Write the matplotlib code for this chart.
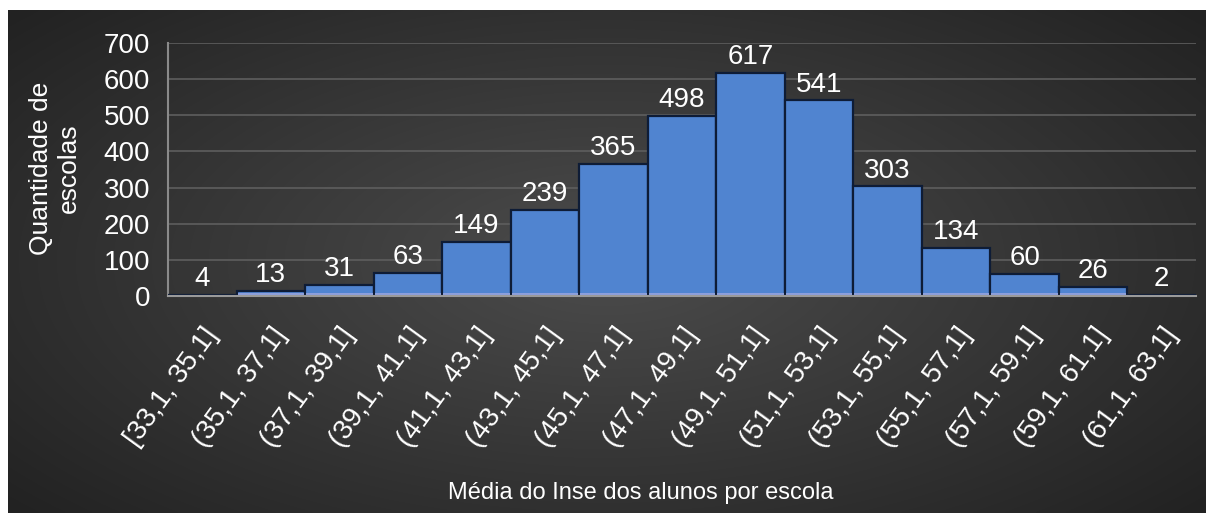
import numpy as np
import matplotlib
matplotlib.use("Agg")
import matplotlib.pyplot as plt
from matplotlib import transforms

plt.rcParams['font.family'] = ['Liberation Sans', 'DejaVu Sans']

# faixas do Inse e quantidade de escolas
faixas = ['[33,1, 35,1]', '(35,1, 37,1]', '(37,1, 39,1]', '(39,1, 41,1]',
          '(41,1, 43,1]', '(43,1, 45,1]', '(45,1, 47,1]', '(47,1, 49,1]',
          '(49,1, 51,1]', '(51,1, 53,1]', '(53,1, 55,1]', '(55,1, 57,1]',
          '(57,1, 59,1]', '(59,1, 61,1]', '(61,1, 63,1]']
escolas = [4, 13, 31, 63, 149, 239, 365, 498, 617, 541, 303, 134, 60, 26, 2]
y_ticks = [0, 100, 200, 300, 400, 500, 600, 700]

W, H = 1206, 513
fig = plt.figure(figsize=(W / 100, H / 100), dpi=100, facecolor='white')

# fundo escuro com gradiente radial
bg = fig.add_axes([8 / W, 0, 1 - 8 / W, (H - 10) / H])
gx, gy = np.meshgrid(np.linspace(-1, 1, 400), np.linspace(-1, 1, 200))
r = np.sqrt((gx * 0.9) ** 2 + (gy * 0.8) ** 2)
r = np.clip(r / 1.2, 0, 1)
c0 = np.array([0x4c, 0x4c, 0x4c]) / 255
c1 = np.array([0x22, 0x22, 0x22]) / 255
img = c0[None, None, :] * (1 - r[..., None]) + c1[None, None, :] * r[..., None]
bg.imshow(img, aspect='auto', extent=[0, 1, 0, 1], interpolation='bilinear')
bg.set_axis_off()

ax = fig.add_axes([168 / W, (H - 296) / H, (1196 - 168) / W, (296 - 43) / H])
ax.set_facecolor('none')

x = np.arange(len(escolas))
ax.bar(x, escolas, width=1.0, color='#5084d0', edgecolor='#0e1c36',
       linewidth=1.6, zorder=3)
# faixa clara na base das barras
ax.bar(x, [min(v, 9) for v in escolas], width=0.97, color='#8c9fdc',
       linewidth=0, zorder=4)

for xi, v in zip(x, escolas):
    ax.text(xi, v + 8, str(v), ha='center', va='bottom', color='white',
            fontsize=20, zorder=4)

ax.set_xlim(-0.5, len(escolas) - 0.5)
ax.set_ylim(0, 700)
ax.set_yticks(y_ticks)
ax.set_yticklabels([str(t) for t in y_ticks], color='white', fontsize=20)
ax.tick_params(axis='y', length=0, pad=13)
ax.grid(axis='y', color='#5e5e5e', linewidth=1.2, zorder=0)

ax.set_xticks(x)
ax.set_xticklabels(faixas, rotation=54, ha='right', va='top',
                   rotation_mode='anchor', color='white', fontsize=20)
offset = transforms.ScaledTranslation(13 / 100, 0, fig.dpi_scale_trans)
for lbl in ax.get_xticklabels():
    lbl.set_transform(lbl.get_transform() + offset)
ax.tick_params(axis='x', length=0, pad=19)

for s in ['top', 'right']:
    ax.spines[s].set_visible(False)
ax.spines['left'].set_color('#8a8a8a')
ax.spines['left'].set_linewidth(1.5)
ax.spines['bottom'].set_color('#9a9a9a')
ax.spines['bottom'].set_linewidth(1.5)
ax.spines['bottom'].set_zorder(5)

fig.text(55 / W, 1 - 168 / H, 'Quantidade de\nescolas', rotation=90,
         ha='center', va='center', color='white', fontsize=19,
         linespacing=1.2)
fig.text(641 / W, 1 - 493 / H, 'Média do Inse dos alunos por escola',
         ha='center', va='center', color='white', fontsize=17)

fig.savefig('out.png', dpi=100)
